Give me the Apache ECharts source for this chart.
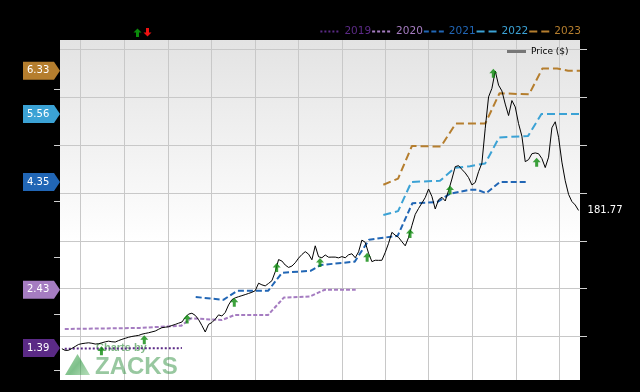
<!DOCTYPE html>
<html>
<head>
<meta charset="utf-8">
<script src="https://cdn.jsdelivr.net/npm/echarts@6/dist/echarts.min.js"></script>
<style>
html,body{margin:0;padding:0;background:#000;}
#chart{width:640px;height:392px;}
</style>
</head>
<body>
<div id="chart"></div>
<script>
// ---------- axes ----------
const xStart = '2019-05-19';
const xEnd = '2022-05-15';
const quarterTicks = ['2019-07-01','2019-10-01','2020-01-01','2020-04-01','2020-07-01','2020-10-01',
  '2021-01-01','2021-04-01','2021-07-01','2021-10-01','2022-01-01','2022-04-01'];
const priceTicks = [50,100,150,200,250,300,350];
const epsTicks = [1,2,3,4,5,6];

// ---------- consensus EPS estimates ----------
const eps2019Dates = ['2019-05-29','2020-01-30'];
const eps2019 = [1.38,1.39];
const eps2020Dates = ['2019-05-29','2019-11-03','2020-01-29','2020-02-18','2020-04-23','2020-05-20',
  '2020-07-29','2020-08-31','2020-10-25','2020-11-25','2021-01-29'];
const eps2020 = [1.73,1.75,1.79,1.92,1.89,1.98,1.98,2.29,2.31,2.43,2.43];
const eps2021Dates = ['2020-02-28','2020-04-26','2020-05-25','2020-07-29','2020-08-27','2020-10-27',
  '2020-11-17','2021-01-27','2021-02-26','2021-04-27','2021-05-28','2021-07-19','2021-08-15',
  '2021-09-26','2021-10-11','2021-10-30','2021-11-28','2022-01-26'];
const eps2021 = [2.30,2.25,2.41,2.41,2.73,2.77,2.87,2.93,3.32,3.39,3.97,3.99,4.14,4.21,4.21,4.15,4.35,4.35];
const eps2022Dates = ['2021-03-28','2021-04-28','2021-05-26','2021-07-25','2021-08-25','2021-09-26',
  '2021-10-28','2021-11-26','2022-01-26','2022-02-23','2022-05-15'];
const eps2022 = [3.76,3.83,4.35,4.37,4.60,4.63,4.68,5.14,5.17,5.56,5.56];
const eps2023Dates = ['2021-03-28','2021-04-28','2021-05-27','2021-07-27','2021-08-27','2021-10-28',
  '2021-11-27','2022-01-28','2022-02-25','2022-03-28','2022-04-20','2022-05-15'];
const eps2023 = [4.30,4.41,4.99,4.98,5.39,5.39,5.93,5.91,6.37,6.37,6.33,6.33];

// ---------- weekly price ----------
const priceStart = '2019-05-23';
const priceValues = [37.2,35.4,35.6,37.5,39.6,41.7,42.5,43.0,43.4,42.9,
 42.1,42.4,43.4,44.4,45.1,44.5,44.2,45.7,47.0,48.1,
 49.2,50.0,50.6,51.1,52.4,53.2,53.9,54.8,55.7,57.5,
 59.2,59.7,60.2,61.5,62.6,63.9,65.1,69.8,73.4,74.3,
 72.1,67.7,61.5,54.7,62.7,64.6,68.1,72.6,71.4,75.1,
 83.0,88.5,90.4,91.6,92.7,93.8,95.0,96.2,97.9,105.7,
 104.0,102.9,105.5,108.3,117.7,130.4,128.9,124.7,122.2,123.6,
 127.1,131.9,135.7,138.7,136.1,130.2,144.8,133.4,132.3,135.2,
 132.9,133.0,133.0,132.2,133.5,132.3,135.4,136.5,132.3,138.5,
 150.8,148.4,137.0,128.3,129.7,129.6,129.7,137.9,147.4,158.9,
 155.9,153.6,149.1,144.8,153.6,165.9,177.7,183.9,189.5,195.3,
 204.2,196.4,183.3,193.0,195.6,191.7,202.6,214.6,227.6,228.6,
 224.7,221.0,216.1,208.5,211.0,222.3,231.3,267.7,300.5,309.4,
 327.6,312.8,306.8,293.0,281.0,296.7,290.0,272.5,259.4,232.8,
 234.9,241.1,241.9,241.1,236.0,226.6,237.5,268.2,274.5,258.3,
 232.3,212.8,198.6,191.1,187.5,181.77];

// ---------- estimate revision markers ----------
const arrowDates = ['2019-08-14','2019-11-12','2020-02-10','2020-05-19','2020-08-16','2020-11-15',
  '2021-02-22','2021-05-23','2021-08-15','2021-11-14','2022-02-13'];
const arrowPrices = [39.9,51.4,72.9,90.6,126.8,132.0,137.5,162.5,207.8,329.9,237.0];

// ---------- helpers ----------
function ts(s){ const p = s.split('-').map(Number); return new Date(p[0], p[1]-1, p[2]).getTime(); }
function weekly(start, n){ const p = start.split('-').map(Number); const out=[]; for(let i=0;i<n;i++){ out.push(new Date(p[0],p[1]-1,p[2]+7*i).getTime()); } return out; }
function pairs(dates, vals){ return dates.map((d,i)=>[ts(d), vals[i]]); }
function dashIcon(d, g){
  const w = 20, h = 2; let s = 'path://';
  for (let x = 0; x < w; x += d + g){ const len = Math.min(d, w - x); s += 'M' + x + ',0h' + len + 'v' + h + 'h' + (-len) + 'z'; }
  return s;
}

const priceDates = weekly(priceStart, priceValues.length);
const FONT = 'DejaVu Sans';

const years = [
  {name:'2019', dates:eps2019Dates, vals:eps2019, color:'#5b2a86', dash:[2,2], icon:[2,2]},
  {name:'2020', dates:eps2020Dates, vals:eps2020, color:'#a57cc1', dash:[4,2], icon:[3,2]},
  {name:'2021', dates:eps2021Dates, vals:eps2021, color:'#2166b5', dash:[6,3], icon:[5,2.5]},
  {name:'2022', dates:eps2022Dates, vals:eps2022, color:'#3ba2d5', dash:[8,4], icon:[8,4]},
  {name:'2023', dates:eps2023Dates, vals:eps2023, color:'#b57e2e', dash:[8,4], icon:[8,4]}
];

const tagData = years.map(y => [ts(y.dates[y.dates.length-1]), y.vals[y.vals.length-1]]);
const tagColors = years.map(y => y.color);

const chart = echarts.init(document.getElementById('chart'), null, {renderer:'canvas'});

const series = years.map(y => ({
  name: y.name, type:'line', xAxisIndex:0, yAxisIndex:0,
  data: pairs(y.dates, y.vals), symbol:'none', z:3,
  lineStyle:{color:y.color, width:2, type:y.dash}, itemStyle:{color:y.color}
}));

series.push({
  name:'Price ($)', type:'line', xAxisIndex:0, yAxisIndex:1,
  data: priceDates.map((t,i)=>[t, priceValues[i]]), symbol:'none', z:4,
  lineStyle:{color:'#000', width:1}, itemStyle:{color:'#777'},
  endLabel:{show:true, formatter: p => p.value[1].toFixed(2), color:'#fff',
    fontFamily:FONT, fontSize:10, distance:9}
});

series.push({
  name:'up', type:'scatter', xAxisIndex:0, yAxisIndex:1, z:5,
  data: pairs(arrowDates, arrowPrices),
  symbol:'path://M4,0 L8,4.5 L5.5,4.5 L5.5,9 L2.5,9 L2.5,4.5 L0,4.5 Z',
  symbolSize:[8,9], symbolOffset:[0,'50%'], itemStyle:{color:'#0b8a0b'}, silent:true
});

series.push({
  name:'tags', type:'custom', xAxisIndex:0, yAxisIndex:0, z:6, clip:false, silent:true,
  data: tagData,
  renderItem: function(params, api){
    const y = api.coord([api.value(0), api.value(1)])[1];
    const x0 = params.coordSys.x;
    const i = params.dataIndex;
    return {type:'group', children:[
      {type:'polygon', shape:{points:[[x0-37,y-9],[x0-6,y-9],[x0,y],[x0-6,y+9],[x0-37,y+9]]},
        style:{fill:tagColors[i]}},
      {type:'text', x:x0-33, y:y, style:{text:api.value(1).toFixed(2), fill:'#fff',
        font:'10px "DejaVu Sans"', verticalAlign:'middle', align:'left'}}
    ]};
  }
});

function upArrow(cx, cy, color, down){
  const s = down ? -1 : 1;
  return {type:'polygon', z:10, shape:{points:[[cx,cy-4*s],[cx+4,cy],[cx+1.5,cy],[cx+1.5,cy+4.5*s],[cx-1.5,cy+4.5*s],[cx-1.5,cy],[cx-4,cy]]},
    style:{fill:color}};
}

const option = {
  backgroundColor:'#000',
  animation:false,
  grid:{left:60, right:60, top:40, bottom:12, show:true, borderWidth:0,
    backgroundColor: new echarts.graphic.LinearGradient(0,0,0,1,[
      {offset:0, color:'#e3e3e3'},{offset:0.6, color:'#ffffff'},{offset:1, color:'#ffffff'}])},
  legend:[
    {data: years.map(y=>({name:y.name, icon:dashIcon(y.icon[0], y.icon[1]), itemStyle:{color:y.color}, textStyle:{color:y.color}})),
     right:59, top:26, padding:0, itemWidth:20, itemHeight:2, itemGap:1,
     textStyle:{fontFamily:FONT, fontSize:10.5}, selectedMode:false},
    {data:[{name:'Price ($)', icon:'rect', itemStyle:{color:'#777'}}],
     left:507, top:47, padding:0, itemWidth:19, itemHeight:3,
     textStyle:{color:'#000', fontFamily:FONT, fontSize:9}, selectedMode:false}
  ],
  xAxis:{type:'time', min:ts(xStart), max:ts(xEnd),
    axisLine:{show:false}, axisLabel:{show:false},
    axisTick:{show:false, customValues: quarterTicks.map(ts)},
    splitLine:{show:true, lineStyle:{color:'#c8c8c8', width:1}}},
  yAxis:[
    {type:'value', position:'left', min:0.822, max:6.878,
     axisLine:{show:false}, axisLabel:{show:false}, splitLine:{show:false},
     axisTick:{show:true, length:6, customValues:epsTicks, lineStyle:{color:'#d0d0d0'}}},
    {type:'value', position:'right', min:4.5, max:360,
     axisLine:{show:false}, axisLabel:{show:false},
     axisTick:{show:true, length:7, customValues:priceTicks, lineStyle:{color:'#d0d0d0'}},
     splitLine:{show:true, lineStyle:{color:'#c8c8c8', width:1}}}
  ],
  graphic:[
    upArrow(137.5, 32.5, '#0b8a0b', false),
    upArrow(147.5, 32.5, '#ee1111', true),
    {type:'polygon', z:1, silent:true, shape:{points:[[65,375],[77.5,354],[90,375]]},
     style:{fill:new echarts.graphic.LinearGradient(0,0,1,1,[
       {offset:0,color:'rgba(70,170,80,0.45)'},{offset:0.5,color:'rgba(40,150,60,0.6)'},{offset:1,color:'rgba(90,180,100,0.45)'}])}},
    {type:'text', z:1, silent:true, x:96, y:347.5,
     style:{text:'Charts by', font:'bold 11px "Liberation Sans"', fill:'rgba(50,140,60,0.62)', verticalAlign:'middle'}},
    {type:'text', z:1, silent:true, x:95, y:367,
     style:{text:'ZACKS', font:'bold 24px "Liberation Sans"', fill:'rgba(50,145,65,0.5)', verticalAlign:'middle'}}
  ],
  series: series
};
chart.setOption(option);
</script>
</body>
</html>
